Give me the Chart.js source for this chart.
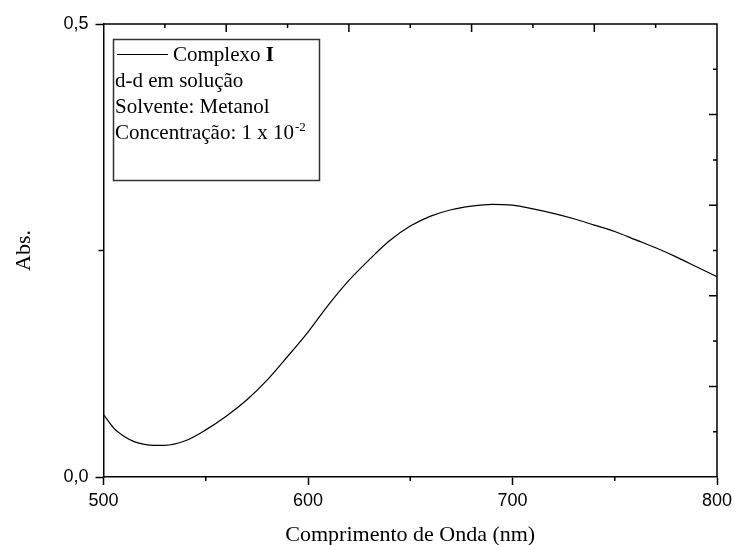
<!DOCTYPE html>
<html lang="pt">
<head>
<meta charset="utf-8">
<title>Complexo I - d-d em solução</title>
<script src="https://cdn.jsdelivr.net/npm/chart.js@4.4.1/dist/chart.umd.min.js"></script>
<style>
  body { margin: 0; background: #fff; }
  canvas { display: block; }
</style>
</head>
<body>
<canvas id="grafico" width="734" height="545"></canvas>
<script>
const comprimentos = [500, 505, 510, 515, 520, 525, 530, 540, 550, 560, 570, 580, 590, 600, 610, 620, 630, 640, 650, 660, 670, 680, 690, 700, 710, 720, 730, 740, 750, 760, 770, 780, 790, 800];
const absorbancia = [0.069, 0.054, 0.045, 0.039, 0.036, 0.035, 0.035, 0.040, 0.052, 0.067, 0.085, 0.107, 0.133, 0.160, 0.190, 0.217, 0.240, 0.261, 0.277, 0.288, 0.295, 0.299, 0.301, 0.300, 0.296, 0.291, 0.285, 0.278, 0.271, 0.262, 0.253, 0.243, 0.232, 0.221];

const ticksX = [500, 600, 700, 800];
const ticksY = [0, 0.5];
const menoresX = [550, 650, 750];
const menoresY = [0.25];
const ticksTopo = [530, 560, 590, 620, 650, 680, 710, 740, 770];
const ticksDireita = [0.05, 0.1, 0.15, 0.2, 0.25, 0.3, 0.35, 0.4, 0.45];

const legendaLinhas = ['d-d em solução', 'Solvente: Metanol', 'Concentração: 1 x 10'];

const serifa = '"Liberation Serif", "Times New Roman", serif';
const sans = '"Liberation Sans", Arial, sans-serif';

// moldura, ticks menores e a caixa de legenda
const molduraPlugin = {
    id: 'moldura',
    afterDraw(chart) {
        const ctx = chart.ctx;
        const a = chart.chartArea;
        const x = chart.scales.x;
        const y = chart.scales.y;
        ctx.save();
        ctx.strokeStyle = '#000';
        ctx.lineWidth = 1.5;

        ctx.beginPath();
        ctx.moveTo(a.left, a.top);
        ctx.lineTo(a.right, a.top);
        ctx.lineTo(a.right, a.bottom);
        ctx.stroke();

        ctx.beginPath();
        menoresX.forEach(v => {
            const px = x.getPixelForValue(v);
            ctx.moveTo(px, a.bottom);
            ctx.lineTo(px, a.bottom + 4);
        });
        menoresY.forEach(v => {
            const py = y.getPixelForValue(v);
            ctx.moveTo(a.left, py);
            ctx.lineTo(a.left - 5, py);
        });
        ticksTopo.forEach((v, i) => {
            const px = x.getPixelForValue(v);
            ctx.moveTo(px, a.top);
            ctx.lineTo(px, a.top + (i % 2 === 1 ? 8 : 4));
        });
        ticksDireita.forEach((v, i) => {
            const py = y.getPixelForValue(v);
            ctx.moveTo(a.right, py);
            ctx.lineTo(a.right - (i % 2 === 1 ? 8 : 4), py);
        });
        ctx.stroke();

        // legenda
        ctx.strokeStyle = '#333';
        ctx.lineWidth = 1.5;
        ctx.strokeRect(113.5, 39.5, 206, 141);

        ctx.strokeStyle = '#000';
        ctx.lineWidth = 1.2;
        ctx.beginPath();
        ctx.moveTo(117, 54.5);
        ctx.lineTo(168, 54.5);
        ctx.stroke();

        ctx.fillStyle = '#000';
        ctx.textBaseline = 'alphabetic';
        ctx.textAlign = 'left';
        ctx.font = '21px ' + serifa;
        ctx.fillText('Complexo ', 173, 61);
        const w = ctx.measureText('Complexo ').width;
        ctx.font = 'bold 21px ' + serifa;
        ctx.fillText('I', 173 + w, 61);

        ctx.font = '21px ' + serifa;
        legendaLinhas.forEach((t, i) => {
            ctx.fillText(t, 115, 87 + i * 26);
        });
        const wc = ctx.measureText(legendaLinhas[2]).width;
        ctx.font = '13px ' + serifa;
        ctx.fillText('-2', 115 + wc + 1, 131);
        ctx.restore();
    }
};

const ctx = document.getElementById('grafico').getContext('2d');

new Chart(ctx, {
    type: 'line',
    data: {
        datasets: [{
            label: 'Complexo I',
            data: comprimentos.map((c, i) => ({ x: c, y: absorbancia[i] })),
            borderColor: '#000',
            borderWidth: 1.2,
            pointRadius: 0,
            fill: false,
            cubicInterpolationMode: 'monotone'
        }]
    },
    options: {
        responsive: false,
        animation: false,
        devicePixelRatio: 1,
        layout: { padding: { top: 24, right: 17, left: 0, bottom: 0 } },
        plugins: {
            legend: { display: false },
            tooltip: { enabled: false }
        },
        scales: {
            x: {
                type: 'linear',
                min: 500,
                max: 800,
                afterBuildTicks: s => { s.ticks = ticksX.map(v => ({ value: v })); },
                afterFit: s => {
                    s.height = 68;
                    s.paddingLeft = 0;
                    s.paddingRight = 0;
                },
                border: { display: true, color: '#000', width: 1.5 },
                grid: { drawOnChartArea: false, drawTicks: true, tickLength: 8, tickColor: '#000', tickWidth: 1.5 },
                ticks: { color: '#000', padding: 5, font: { family: sans, size: 18 }, maxRotation: 0 },
                title: {
                    display: true,
                    text: 'Comprimento de Onda (nm)',
                    color: '#000',
                    font: { family: serifa, size: 22 },
                    padding: { top: 0, bottom: -3 }
                }
            },
            y: {
                type: 'linear',
                min: 0,
                max: 0.5,
                afterBuildTicks: s => { s.ticks = ticksY.map(v => ({ value: v })); },
                afterFit: s => { s.width = 103.5; },
                border: { display: true, color: '#000', width: 1.5 },
                grid: { drawOnChartArea: false, drawTicks: true, tickLength: 8, tickColor: '#000', tickWidth: 1.5 },
                ticks: {
                    color: '#000',
                    padding: 7,
                    font: { family: sans, size: 18 },
                    callback: v => v.toFixed(1).replace('.', ',')
                },
                title: {
                    display: true,
                    text: 'Abs.',
                    color: '#000',
                    font: { family: serifa, size: 22 },
                    padding: { top: 11, bottom: 0 }
                }
            }
        }
    },
    plugins: [molduraPlugin]
});
</script>
</body>
</html>
